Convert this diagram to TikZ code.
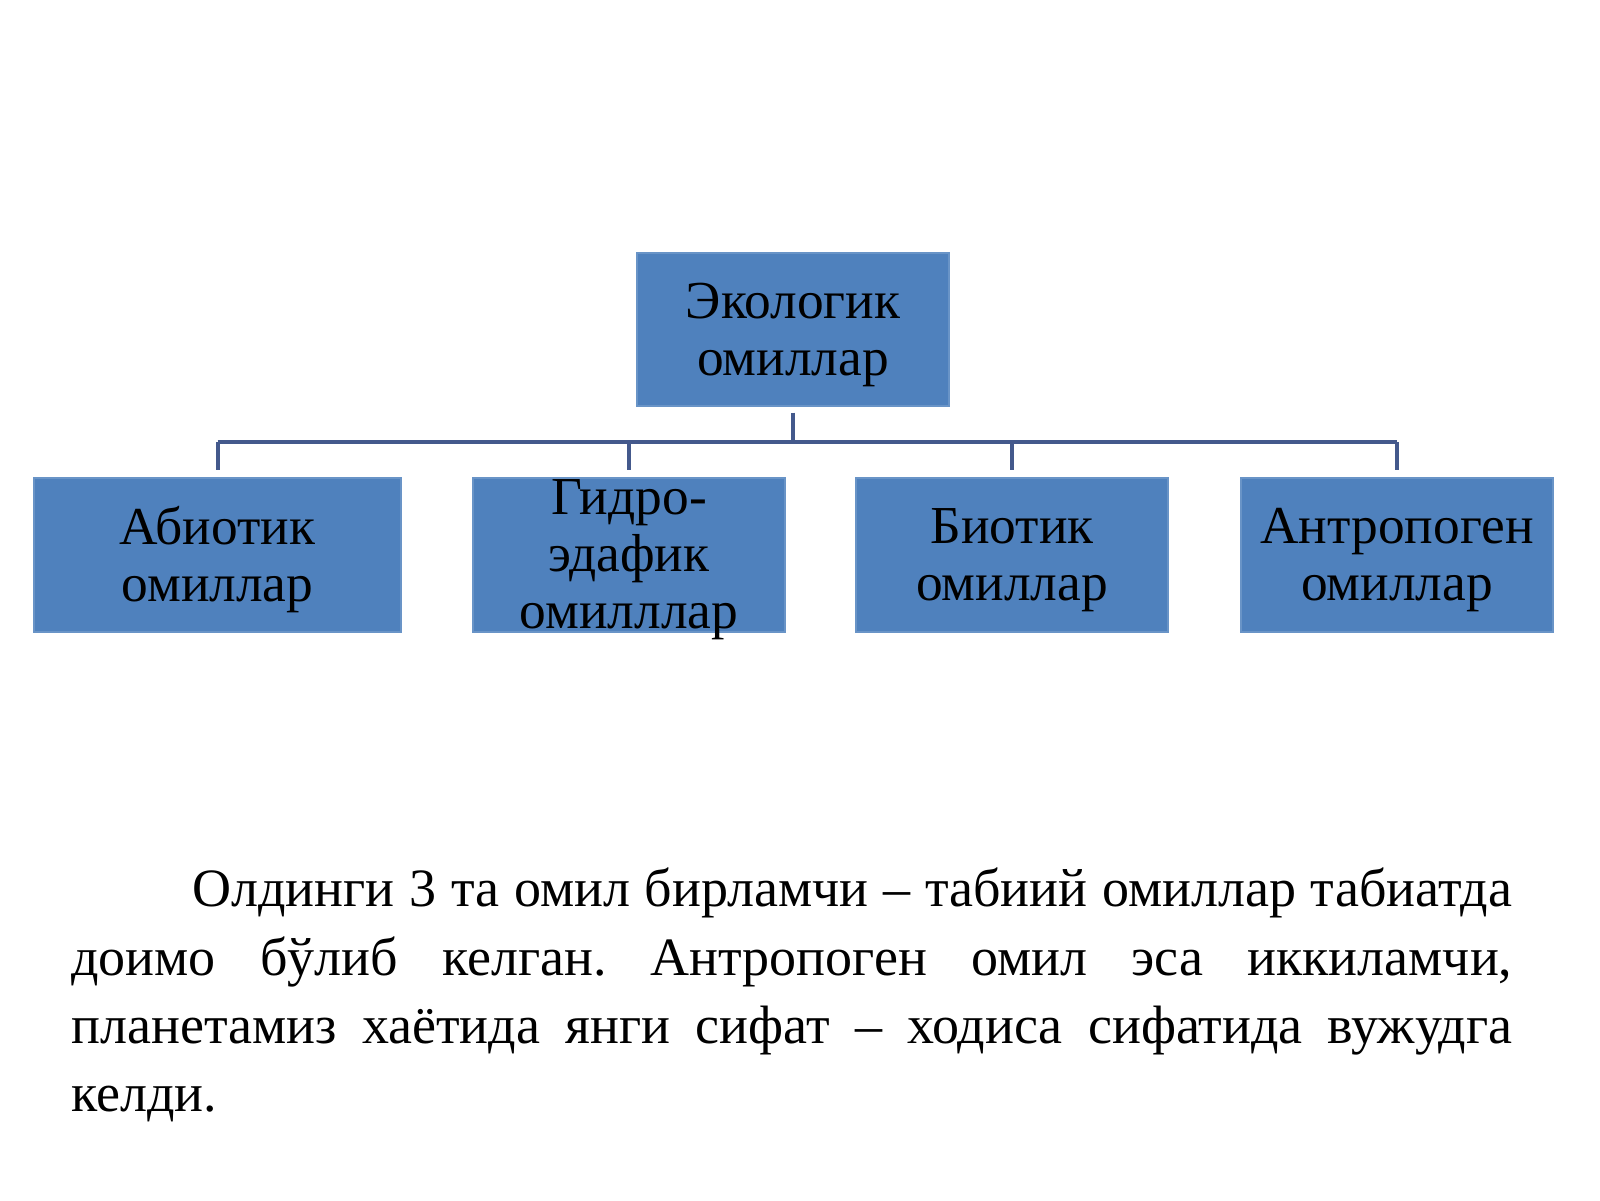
\documentclass[tikz,border=0pt]{standalone}
\usepackage{fontspec}
\setmainfont{Liberation Serif}
\frenchspacing
\definecolor{boxblue}{HTML}{4F81BD}
\definecolor{linkblue}{HTML}{44598C}
\tikzset{
  factor/.style={rectangle, fill=boxblue, draw=boxblue!85!white, line width=0.6pt,
    minimum width=156pt, minimum height=77pt, inner sep=0pt},
  factortext/.style={align=center, inner sep=0pt, yshift=-2.5pt, text=black,
    font=\fontsize{26.7}{28.5}\selectfont},
  link/.style={draw=linkblue, line width=2pt},
  paraline/.style={anchor=base west, inner sep=0pt, font=\fontsize{27}{34}\selectfont}
}
\begin{document}
\begin{tikzpicture}[x=0.5pt,y=-0.5pt]
    \useasboundingbox[fill=white] (0,0) rectangle (1600,1200);
    % top node
    \node[factor, minimum height=76.5pt, label={[factortext]center:{Экологик\\омиллар}}] (top) at (793,329.5) {};
    % the four factors
    \node[factor, minimum width=183.5pt, label={[factortext]center:{Абиотик\\омиллар}}] (abiotik) at (217.5,555) {};
    \node[factor, label={[factortext]center:{Гидро-\\эдафик\\омилллар}}] (gidro) at (629,555) {};
    \node[factor, label={[factortext]center:{Биотик\\омиллар}}] (biotik) at (1012,555) {};
    \node[factor, label={[factortext]center:{Антропоген\\омиллар}}] (antropogen) at (1397,555) {};

    % connectors
    \coordinate (bus) at (793,442);
    \draw[link, shorten <=3pt] (top.south) -- (bus);
    \draw[link, line join=round] (bus -| abiotik) -- (bus -| antropogen);
    \foreach \n in {abiotik,gidro,biotik,antropogen}
        \draw[link, shorten >=3.5pt] (bus -| \n) -- (\n.north);

    % text below
    \node[paraline] (para1) at (192,906) {\makebox[660pt][s]{Олдинги 3 та омил бирламчи – табиий омиллар табиатда}};
    \node[paraline] (para2) at (71,975) {\makebox[720.5pt][s]{доимо бўлиб келган. Антропоген омил эса иккиламчи,}};
    \node[paraline] (para3) at (71,1043) {\makebox[720.5pt][s]{планетамиз хаётида янги сифат – ходиса сифатида вужудга}};
    \node[paraline] (para4) at (71,1111) {келди.};
\end{tikzpicture}
\end{document}
